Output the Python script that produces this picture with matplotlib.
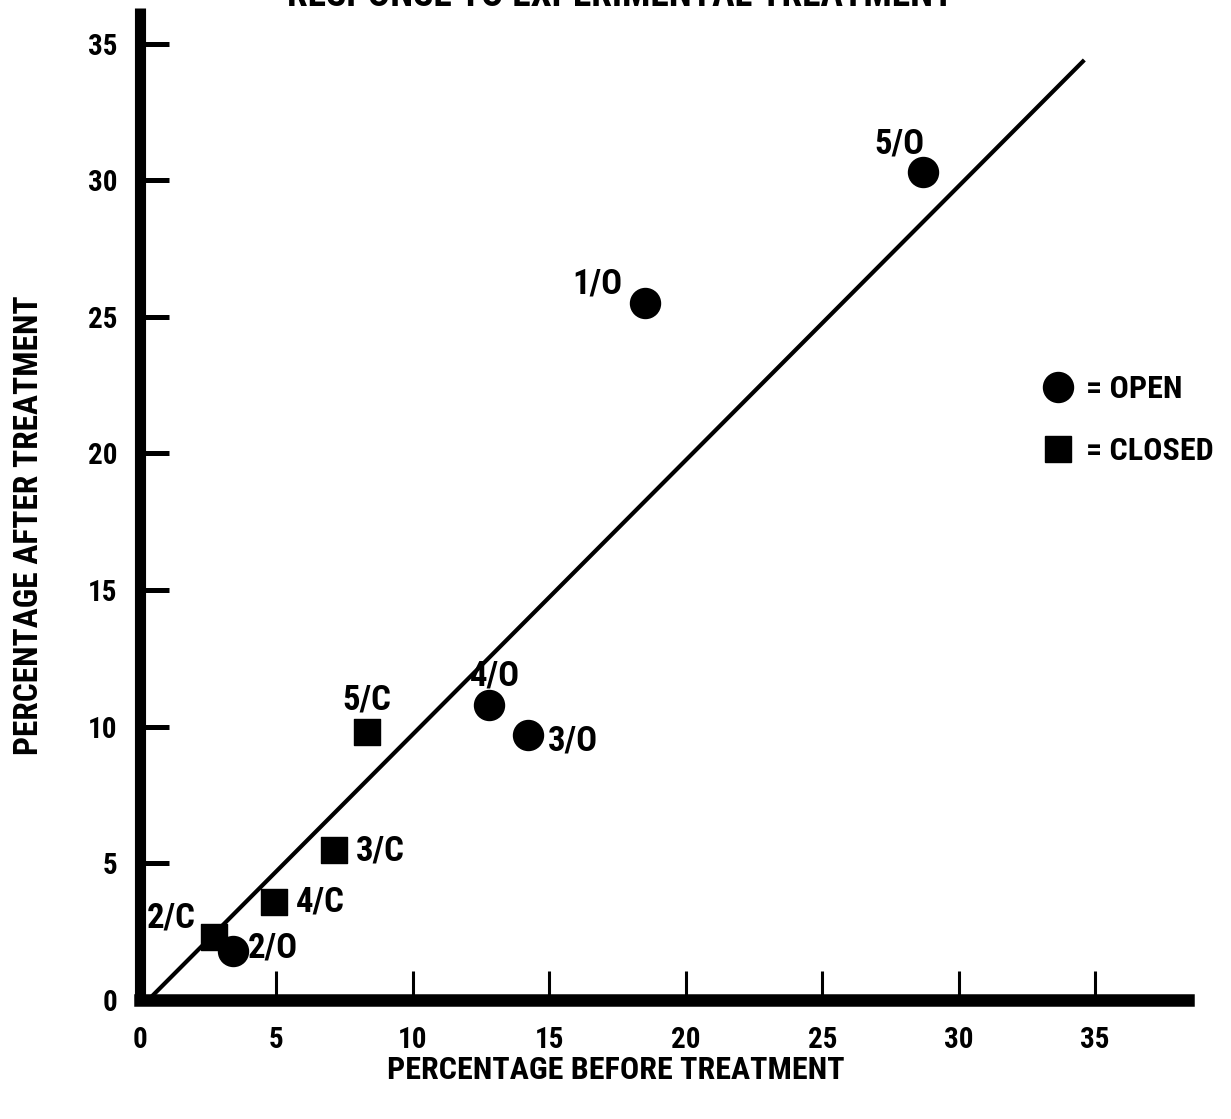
import matplotlib
matplotlib.use("Agg")
import matplotlib.pyplot as plt
from matplotlib import font_manager
from matplotlib.lines import Line2D

# pick the narrowest family that is installed
installed = {f.name for f in font_manager.fontManager.ttflist}
wanted = ['Liberation Sans Narrow', 'Roboto Condensed', 'Open Sans Condensed',
          'Noto Sans Condensed', 'Roboto', 'Liberation Sans']
family = [n for n in wanted if n in installed][:1] + ['DejaVu Sans']
plt.rcParams['font.family'] = family
plt.rcParams['font.weight'] = 'bold'

# open plots (circles)
open_labels = ['5/O', '1/O', '4/O', '3/O', '2/O']
open_before = [28.7, 18.5, 12.8, 14.2, 3.4]
open_after = [30.3, 25.5, 10.8, 9.7, 1.8]

# closed plots (squares)
closed_labels = ['5/C', '3/C', '4/C', '2/C']
closed_before = [8.3, 7.1, 4.9, 2.7]
closed_after = [9.8, 5.5, 3.6, 2.3]

# drawn line
line_before = [0.3, 34.6]
line_after = [0.0, 34.4]

ticks = [0, 5, 10, 15, 20, 25, 30, 35]

# label offsets in points (dx, dy) and alignment
open_offsets = [(-17, 20), (-16, 14), (4, 21), (15, -4), (11, 2)]
open_ha = ['center', 'right', 'center', 'left', 'left']
closed_offsets = [(0, 23), (16, -1), (16, 0), (-13, 14)]
closed_ha = ['center', 'left', 'left', 'right']

fig = plt.figure(figsize=(12.31, 11.19), dpi=100)
ax = fig.add_axes([0.1137, 0.1063, 0.9651 - 0.1137, 0.9928 - 0.1063])

ax.plot(line_before, line_after, color='black', lw=3, solid_capstyle='butt', zorder=2)
ax.scatter(open_before, open_after, s=21.6 ** 2, marker='o', color='black', zorder=3)
ax.scatter(closed_before, closed_after, s=19.4 ** 2, marker='s', color='black', zorder=3)

for lab, x, y, off, ha in zip(open_labels, open_before, open_after, open_offsets, open_ha):
    ax.annotate(lab, (x, y), xytext=off, textcoords='offset points',
                ha=ha, va='center', fontsize=25, fontweight='bold')
for lab, x, y, off, ha in zip(closed_labels, closed_before, closed_after, closed_offsets, closed_ha):
    ax.annotate(lab, (x, y), xytext=off, textcoords='offset points',
                ha=ha, va='center', fontsize=25, fontweight='bold')

ax.set_xlim(0, 38.4)
ax.set_ylim(0, 36.3)
ax.set_xticks(ticks)
ax.set_yticks(ticks)
ax.set_xticklabels([str(t) for t in ticks])
ax.set_yticklabels([str(t) for t in ticks])
ax.tick_params(axis='x', direction='in', length=21, width=2.2, pad=19, labelsize=21)
ax.tick_params(axis='y', direction='in', length=21, width=3.6, pad=16, labelsize=21)

for side in ['top', 'right']:
    ax.spines[side].set_visible(False)
ax.spines['left'].set_linewidth(8)
ax.spines['bottom'].set_linewidth(9)
ax.spines['left'].set_capstyle('butt')

fig.text(0.5, 0.044, 'PERCENTAGE BEFORE TREATMENT', ha='center', va='center',
         fontsize=23, fontweight='bold')
fig.text(0.0236, 0.531, 'PERCENTAGE AFTER TREATMENT', ha='center', va='center',
         rotation=90, fontsize=24, fontweight='bold')
fig.text(0.504, 0.9945, 'RESPONSE TO EXPERIMENTAL TREATMENT', ha='center', va='baseline',
         fontsize=27, fontweight='bold')

handles = [
    Line2D([], [], marker='o', ls='none', color='black', markersize=21.6),
    Line2D([], [], marker='s', ls='none', color='black', markersize=19.4),
]
ax.legend(handles, ['= OPEN', '= CLOSED'], loc='upper left',
          bbox_to_anchor=(0.845, 0.644), frameon=False, fontsize=23,
          handletextpad=0.3, labelspacing=1.0, handlelength=1.2, borderaxespad=0)

fig.savefig('out.png', dpi=100)
